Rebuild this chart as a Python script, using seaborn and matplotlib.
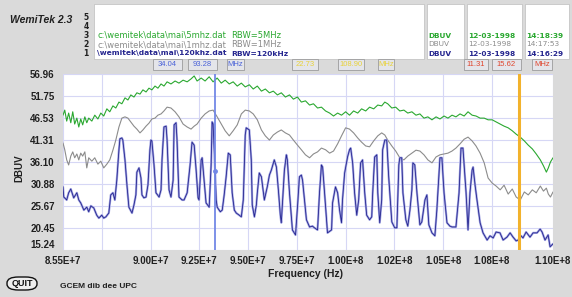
import numpy as np
import pandas as pd
import matplotlib
matplotlib.use("Agg")
import matplotlib.pyplot as plt
import seaborn as sns
from matplotlib.patches import Rectangle, FancyBboxPatch

# sweep frequencies (MHz) shared by the 5 MHz and 1 MHz RBW traces
freq_wide = [
    85.50, 85.59, 85.69, 85.79, 85.90, 86.00, 86.10, 86.21, 86.31, 86.41,
    86.51, 86.62, 86.72, 86.82, 86.98, 87.13, 87.29, 87.44, 87.59, 87.75,
    87.90, 88.06, 88.21, 88.37, 88.52, 88.68, 88.83, 88.98, 89.14, 89.29,
    89.45, 89.60, 89.76, 89.91, 90.06, 90.22, 90.37, 90.53, 90.68, 90.84,
    91.04, 91.25, 91.45, 91.66, 91.87, 92.07, 92.23, 92.38, 92.59, 92.79,
    93.00, 93.20, 93.41, 93.62, 93.82, 94.03, 94.23, 94.44, 94.65, 94.85,
    95.06, 95.26, 95.47, 95.68, 95.88, 96.09, 96.29, 96.50, 96.70, 96.91,
    97.12, 97.32, 97.53, 97.73, 97.94, 98.15, 98.35, 98.56, 98.76, 98.97,
    99.18, 99.38, 99.59, 99.79, 100.00, 100.20, 100.41, 100.62, 100.82, 101.03,
    101.23, 101.44, 101.65, 101.85, 102.01, 102.16, 102.37, 102.57, 102.78, 102.99,
    103.19, 103.40, 103.61, 103.81, 104.02, 104.22, 104.43, 104.64, 104.84, 105.05,
    105.25, 105.46, 105.66, 105.87, 106.08, 106.28, 106.49, 106.69, 106.90, 107.11,
    107.31, 107.52, 107.72, 107.93, 108.13, 108.34, 108.55, 108.75, 108.96, 109.17,
    109.37, 109.58, 109.78, 109.99, 110.15, 110.30, 110.40, 110.51, 110.64,
]

# RBW = 5 MHz (green)
level_5mhz = [
    47.2, 48.4, 45.8, 47.7, 45.4, 48.0, 45.1, 46.5, 44.4, 46.3,
    44.9, 46.8, 45.4, 46.5, 45.8, 47.2, 46.3, 47.7, 47.0, 48.7,
    48.0, 49.4, 48.9, 50.3, 49.9, 51.3, 50.8, 52.0, 51.5, 52.5,
    52.2, 53.2, 52.7, 53.6, 53.2, 54.1, 53.6, 54.6, 54.1, 55.1,
    54.6, 55.3, 54.8, 55.5, 55.1, 55.8, 56.5, 55.3, 56.0, 55.3,
    56.3, 55.1, 56.0, 54.8, 55.5, 54.6, 55.1, 54.1, 54.8, 53.9,
    54.4, 53.4, 54.1, 52.9, 53.4, 52.5, 52.9, 52.0, 52.5, 51.5,
    52.0, 51.0, 51.5, 50.3, 50.6, 49.6, 49.9, 48.9, 49.1, 48.2,
    47.7, 47.0, 47.7, 47.2, 48.0, 47.2, 48.2, 47.7, 48.7, 48.2,
    49.1, 48.7, 49.6, 49.4, 50.3, 49.9, 48.9, 49.1, 48.2, 48.4,
    47.7, 48.0, 47.2, 47.5, 46.5, 46.8, 46.1, 46.8, 46.3, 47.0,
    46.5, 47.2, 46.8, 47.5, 47.0, 48.0, 47.2, 47.0, 46.5, 46.5,
    46.1, 46.1, 45.6, 45.1, 44.6, 44.2, 43.5, 42.7, 42.0, 41.1,
    40.1, 39.2, 38.0, 36.6, 35.2, 33.7, 34.7, 36.1, 37.1,
]

# RBW = 1 MHz (gray)
level_1mhz = [
    40.6, 39.0, 36.6, 35.4, 37.5, 38.5, 37.1, 38.0, 36.6, 38.2,
    37.5, 38.5, 34.7, 37.1, 36.3, 37.1, 35.6, 36.3, 34.7, 35.6,
    36.6, 38.9, 41.3, 44.4, 46.5, 46.8, 46.5, 45.6, 44.6, 43.9,
    43.0, 43.7, 44.6, 45.3, 46.3, 46.5, 47.2, 47.5, 48.2, 49.1,
    48.9, 48.0, 46.8, 45.1, 44.4, 43.9, 44.6, 45.1, 46.5, 47.5,
    48.2, 48.4, 46.8, 45.1, 43.5, 42.3, 43.5, 44.9, 47.5, 48.4,
    48.2, 47.5, 46.1, 43.7, 42.3, 41.3, 42.5, 43.2, 43.7, 43.0,
    42.5, 41.3, 40.1, 39.0, 37.8, 37.1, 38.0, 38.5, 39.4, 39.0,
    38.2, 38.7, 40.4, 42.3, 44.2, 43.9, 43.0, 41.8, 40.8, 39.9,
    39.7, 41.1, 42.3, 43.0, 42.5, 41.3, 39.9, 38.7, 37.1, 36.6,
    37.5, 38.2, 38.9, 38.7, 37.8, 36.6, 35.9, 37.3, 37.8, 38.0,
    38.2, 38.7, 39.4, 40.4, 41.5, 42.0, 41.1, 39.9, 38.2, 35.9,
    32.3, 31.1, 30.4, 29.5, 30.6, 28.5, 29.7, 27.8, 27.1, 29.0,
    28.3, 29.5, 28.8, 30.4, 29.2, 29.9, 28.5, 27.8, 29.0,
]

# RBW = 120 kHz (blue)
freq_120k = [
    85.50, 85.54, 85.69, 85.79, 85.90, 86.05, 86.21, 86.31, 86.41, 86.57,
    86.72, 86.82, 86.93, 87.08, 87.23, 87.34, 87.49, 87.59, 87.70, 87.85,
    87.95, 88.06, 88.16, 88.26, 88.37, 88.42, 88.52, 88.57, 88.68, 88.78,
    88.88, 89.04, 89.14, 89.24, 89.29, 89.40, 89.50, 89.55, 89.65, 89.76,
    89.86, 89.96, 90.01, 90.06, 90.17, 90.27, 90.43, 90.53, 90.58, 90.68,
    90.79, 90.84, 90.94, 91.04, 91.15, 91.20, 91.30, 91.35, 91.45, 91.61,
    91.71, 91.87, 92.02, 92.12, 92.23, 92.33, 92.43, 92.48, 92.59, 92.64,
    92.74, 92.84, 93.00, 93.10, 93.15, 93.20, 93.26, 93.36, 93.41, 93.57,
    93.67, 93.77, 93.87, 93.98, 94.08, 94.18, 94.29, 94.39, 94.54, 94.65,
    94.75, 94.85, 94.90, 95.06, 95.16, 95.21, 95.32, 95.42, 95.47, 95.57,
    95.68, 95.83, 95.98, 96.09, 96.19, 96.34, 96.45, 96.55, 96.65, 96.70,
    96.76, 96.86, 96.96, 97.01, 97.12, 97.27, 97.43, 97.53, 97.63, 97.73,
    97.79, 97.89, 97.99, 98.15, 98.30, 98.40, 98.56, 98.66, 98.76, 98.82,
    98.92, 99.07, 99.28, 99.33, 99.48, 99.59, 99.69, 99.79, 99.84, 99.95,
    100.10, 100.20, 100.26, 100.36, 100.46, 100.57, 100.67, 100.77, 100.87, 100.98,
    101.08, 101.23, 101.34, 101.39, 101.49, 101.60, 101.65, 101.75, 101.85, 101.90,
    102.01, 102.11, 102.21, 102.37, 102.52, 102.63, 102.73, 102.78, 102.88, 102.94,
    103.09, 103.19, 103.30, 103.40, 103.45, 103.55, 103.66, 103.81, 103.91, 104.07,
    104.17, 104.27, 104.43, 104.58, 104.68, 104.79, 104.84, 104.94, 105.05, 105.20,
    105.35, 105.46, 105.66, 105.82, 105.92, 106.02, 106.18, 106.28, 106.38, 106.49,
    106.54, 106.64, 106.74, 106.90, 107.05, 107.26, 107.41, 107.57, 107.72, 107.92,
    108.08, 108.28, 108.44, 108.59, 108.75, 108.85, 109.00, 109.10, 109.26, 109.46,
    109.62, 109.82, 109.98, 110.08, 110.23, 110.39, 110.49, 110.64,
]
level_120k = [
    30.2, 27.8, 27.1, 28.8, 29.7, 27.6, 28.8, 27.1, 26.4, 24.7,
    25.4, 24.3, 25.7, 25.2, 23.5, 22.8, 23.5, 22.8, 23.1, 24.0,
    28.3, 28.8, 27.1, 31.8, 39.0, 41.6, 41.8, 41.3, 36.6, 30.7,
    25.4, 24.0, 25.9, 28.3, 33.7, 34.7, 32.3, 28.3, 27.6, 27.8,
    30.7, 39.0, 41.3, 41.1, 35.4, 28.8, 27.8, 29.5, 36.6, 44.4,
    44.6, 41.3, 29.5, 27.8, 31.8, 44.9, 45.4, 41.3, 27.8, 27.1,
    27.1, 28.8, 35.4, 40.8, 40.1, 34.2, 27.6, 27.1, 36.6, 37.1,
    31.8, 26.4, 25.4, 35.4, 45.6, 45.1, 39.0, 27.1, 25.4, 24.3,
    24.7, 28.3, 32.6, 38.2, 37.8, 28.8, 24.7, 24.0, 23.5, 23.1,
    27.1, 42.5, 44.2, 43.7, 36.6, 25.9, 23.1, 25.9, 28.8, 33.5,
    32.6, 27.1, 30.2, 33.0, 34.2, 36.6, 34.9, 29.5, 23.5, 21.7,
    26.4, 34.2, 37.8, 36.6, 28.8, 20.0, 18.8, 25.4, 32.6, 33.0,
    31.8, 27.1, 22.4, 20.7, 20.9, 20.5, 20.0, 28.8, 35.4, 34.9,
    28.8, 19.3, 20.0, 26.4, 30.2, 28.8, 24.7, 21.7, 27.1, 33.5,
    37.3, 39.0, 39.4, 35.9, 28.8, 23.5, 27.1, 35.9, 36.6, 28.8,
    23.5, 22.4, 23.1, 28.8, 37.3, 37.8, 28.8, 21.7, 27.1, 39.0,
    41.3, 41.3, 32.6, 21.9, 20.5, 20.5, 35.4, 37.1, 37.1, 28.8,
    22.4, 20.9, 24.7, 29.5, 35.9, 35.4, 28.8, 21.2, 21.9, 27.1,
    28.3, 21.2, 19.3, 18.6, 24.7, 33.0, 37.1, 37.1, 28.8, 21.7,
    20.9, 20.7, 20.7, 28.8, 39.4, 39.4, 28.8, 20.0, 28.8, 34.2,
    34.9, 30.7, 27.1, 21.7, 19.3, 17.6, 18.6, 18.1, 19.5, 19.3,
    17.6, 18.3, 19.3, 18.3, 17.4, 17.6, 18.6, 18.1, 19.5, 18.3,
    19.3, 19.3, 20.2, 19.5, 17.6, 18.8, 16.0, 16.7,
]

y_ticks = [15.24, 20.45, 25.67, 30.88, 36.10, 41.31, 46.53, 51.75, 56.96]
y_labels = ["15.24", "20.45", "25.67", "30.88", "36.10", "41.31", "46.53", "51.75", "56.96"]
x_ticks_mhz = [85.5, 90.0, 92.5, 95.0, 97.5, 100.0, 102.5, 105.0, 107.5, 110.64]
x_labels = ["8.55E+7", "9.00E+7", "9.25E+7", "9.50E+7", "9.75E+7",
            "1.00E+8", "1.02E+8", "1.05E+8", "1.08E+8", "1.10E+8"]

# header table
trace_files = ["c:\\wemitek\\data\\mai\\5mhz.dat", "c:\\wemitek\\data\\mai\\1mhz.dat",
               "\\wemitek\\data\\mai\\120khz.dat"]
trace_rbw = ["RBW=5MHz", "RBW=1MHz", "RBW=120kHz"]
trace_dates = ["12-03-1998", "12-03-1998", "12-03-1998"]
trace_times = ["14:18:39", "14:17:53", "14:16:29"]

# cursor readouts: (level dBuV, freq MHz)
cursor_a = (34.04, 93.28)
cursor_b = (22.73, 108.90)
cursor_delta = (11.31, 15.62)

BG = "#dadada"
GREEN = "#2aa830"
GRAY = "#8c8c8c"
NAVY = "#25258f"
HALO = "#a2a5e2"
GRID = "#d6d7f5"
CUR_A = "#7388e6"
CUR_B = "#f2b22c"
row_colors = [GREEN, GRAY, NAVY]
name_weight = ["normal", "normal", "bold"]
info_weight = ["bold", "normal", "bold"]

sns.set_theme(style="white")
plt.rcParams["font.family"] = ["Liberation Sans", "DejaVu Sans"]

W, H = 572, 297
fig = plt.figure(figsize=(W / 100, H / 100), dpi=100, facecolor=BG)


def fx(x):
    return x / W


def fy(y):
    return 1 - y / H


ax = fig.add_axes([fx(63), fy(250), (553 - 63) / W, (250 - 74) / H])
ax.set_facecolor("white")

wide = pd.DataFrame({"freq": np.array(freq_wide) * 1e6, "rbw5": level_5mhz, "rbw1": level_1mhz})
narrow = pd.DataFrame({"freq": np.array(freq_120k) * 1e6, "level": level_120k})

sns.lineplot(data=wide, x="freq", y="rbw1", ax=ax, color=GRAY, lw=0.8, estimator=None)
sns.lineplot(data=wide, x="freq", y="rbw5", ax=ax, color=GREEN, lw=0.8, estimator=None)
sns.lineplot(data=narrow, x="freq", y="level", ax=ax, color=HALO, lw=1.6, estimator=None)
sns.lineplot(data=narrow, x="freq", y="level", ax=ax, color=NAVY, lw=0.6, estimator=None)

ax.axvline(cursor_a[1] * 1e6, color=CUR_A, lw=1.3, zorder=5)
ax.axvline(cursor_b[1] * 1e6, color=CUR_B, lw=2.2, zorder=5)
ax.plot([cursor_a[1] * 1e6], [cursor_a[0]], "o", ms=2.5, color=CUR_A, zorder=6)

ax.set_xlim(85.5e6, 110.64e6)
ax.set_ylim(15.24, 56.96)
ax.set_xticks(np.array(x_ticks_mhz) * 1e6, x_labels)
ax.set_xticks([87.5e6], minor=True)
ax.set_yticks(y_ticks, y_labels)
ax.grid(True, which="both", color=GRID, lw=0.8)
ax.set_axisbelow(True)
ax.tick_params(which="minor", length=0)
ax.tick_params(axis="y", labelsize=7, length=4, width=0.9, color="#333333", pad=2, direction="out")
ax.tick_params(axis="x", labelsize=7, length=3, width=0.8, color="#777777", pad=3, direction="inout")
for lab in ax.get_xticklabels() + ax.get_yticklabels():
    lab.set_fontweight("bold")
    lab.set_color("#202020")
ax.get_yticklabels()[0].set_va("bottom")
for s in ax.spines.values():
    s.set_visible(False)
ax.set_xlabel("")
ax.set_ylabel("")

fig.text(fx(19), fy(168), "DBUV", rotation=90, ha="center", va="center",
         fontsize=7, fontweight="bold", color="#202020")
fig.text(fx(305), fy(274), "Frequency (Hz)", ha="center", va="center",
         fontsize=7.5, fontweight="bold", color="#202020")

# header
fig.text(fx(10), fy(20), "WemiTek 2.3", ha="left", va="center", fontsize=7.5,
         fontweight="bold", style="italic", color="#202020")
for x0, x1 in [(94, 424), (427, 464), (467, 522), (525, 569)]:
    fig.add_artist(Rectangle((fx(x0), fy(59)), (x1 - x0) / W, 55 / H,
                             transform=fig.transFigure, facecolor="white",
                             edgecolor="#bdbdbd", lw=0.5))
for n, yy in zip(["5", "4", "3", "2", "1"], [17.5, 26.5, 35.5, 44.5, 53.5]):
    fig.text(fx(86), fy(yy), n, ha="center", va="center", fontsize=5.5,
             fontweight="bold", color="#202020", family="DejaVu Sans")
head = dict(ha="left", va="center", family="DejaVu Sans")
for i, yy in enumerate([35.5, 44.5, 53.5]):
    c = row_colors[i]
    fs = 5.4 if name_weight[i] == "bold" else 6.0
    fig.text(fx(97), fy(yy), trace_files[i], fontsize=fs, color=c, fontweight=name_weight[i], **head)
    fig.text(fx(231), fy(yy), trace_rbw[i], fontsize=fs, color=c, fontweight=name_weight[i], **head)
    fig.text(fx(428), fy(yy), "DBUV", fontsize=5.3, color=c, fontweight=info_weight[i], **head)
    fig.text(fx(468), fy(yy), trace_dates[i], fontsize=5.3, color=c, fontweight=info_weight[i], **head)
    fig.text(fx(526), fy(yy), trace_times[i], fontsize=5.3, color=c, fontweight=info_weight[i], **head)

# readout boxes
readouts = [
    (153, 182, f"{cursor_a[0]:.2f}", "#4a62d8"), (188, 217, f"{cursor_a[1]:.2f}", "#4a62d8"),
    (227, 244, "MHz", "#4a62d8"),
    (292, 318, f"{cursor_b[0]:.2f}", "#e8d23a"), (338, 364, f"{cursor_b[1]:.2f}", "#e8d23a"),
    (378, 394, "MHz", "#e8d23a"),
    (464, 488, f"{cursor_delta[0]:.2f}", "#e0442c"), (492, 521, f"{cursor_delta[1]:.2f}", "#e0442c"),
    (532, 552, "MHz", "#e0442c"),
]
for x0, x1, txt, c in readouts:
    fig.add_artist(Rectangle((fx(x0), fy(70)), (x1 - x0) / W, 11 / H,
                             transform=fig.transFigure, facecolor="#e4e5ea",
                             edgecolor="#9c9c9c", lw=0.6))
    fig.text(fx((x0 + x1) / 2), fy(64.5), txt, ha="center", va="center", fontsize=5.5, color=c)

# footer
fig.add_artist(FancyBboxPatch((fx(7), fy(290)), 30 / W, 13 / H, transform=fig.transFigure,
                              boxstyle="round,pad=0,rounding_size=0.02", facecolor="#eeeeee",
                              edgecolor="#111111", lw=1))
fig.text(fx(22), fy(283.5), "QUIT", ha="center", va="center", fontsize=6.5,
         fontweight="bold", color="#111111")
fig.text(fx(60), fy(287), "GCEM dib dee UPC", ha="left", va="center", fontsize=6,
         fontweight="bold", color="#202020")

fig.savefig("out.png", dpi=100, facecolor=BG)
